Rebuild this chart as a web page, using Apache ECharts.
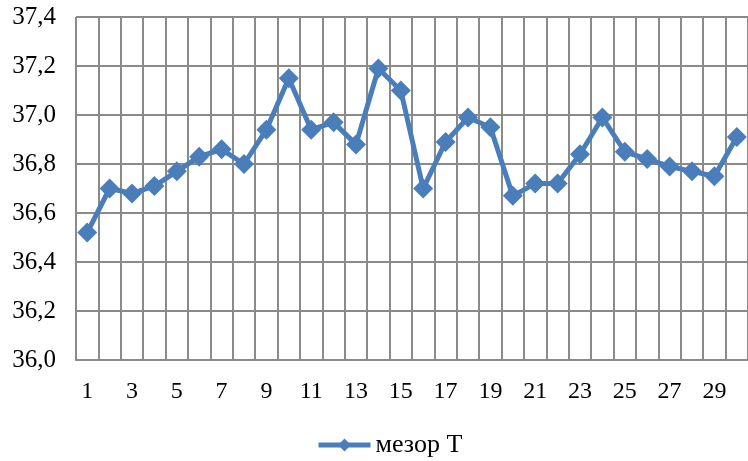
<!DOCTYPE html>
<html>
<head>
<meta charset="utf-8">
<script src="https://cdn.jsdelivr.net/npm/echarts@6/dist/echarts.min.js"></script>
<style>
  html, body { margin: 0; padding: 0; background: #fff; }
  #chart { width: 748px; height: 461px; }
</style>
</head>
<body>
<div id="chart"></div>
<script>
// Days of the observation period
const days = Array.from({ length: 30 }, (_, i) => String(i + 1));

// Daily mesor of body temperature, °C
const mesorT = [
  36.52, 36.70, 36.68, 36.71, 36.77, 36.83, 36.86, 36.80, 36.94, 37.15,
  36.94, 36.97, 36.88, 37.19, 37.10, 36.70, 36.89, 36.99, 36.95, 36.67,
  36.72, 36.72, 36.84, 36.99, 36.85, 36.82, 36.79, 36.77, 36.75, 36.91
];

const seriesName = 'мезор Т';
const yMin = 36.0, yMax = 37.4, yStep = 0.2;

const font = '"Liberation Serif", "Times New Roman", serif';
const gridColor = '#8a8a8a';
const lineColor = '#4a7ebb';

const chart = echarts.init(document.getElementById('chart'), null, { renderer: 'canvas' });
chart.setOption({
  animation: false,
  textStyle: { fontFamily: font },
  grid: { left: 76, top: 17, width: 678, height: 343, containLabel: false },
  legend: {
    top: 432,
    left: 316,
    padding: 0,
    itemWidth: 52,
    itemHeight: 16,
    itemGap: 4,
    lineStyle: { width: 5, color: lineColor },
    itemStyle: { color: lineColor },
    textStyle: { fontFamily: font, fontSize: 26, color: '#000' },
    data: [seriesName]
  },
  xAxis: {
    type: 'category',
    data: days,
    boundaryGap: true,
    axisLine: { show: true, lineStyle: { color: gridColor, width: 2 } },
    axisTick: { show: false },
    axisLabel: { interval: 1, margin: 20, fontSize: 24, color: '#000', fontFamily: font },
    splitLine: { show: true, interval: 0, lineStyle: { color: gridColor, width: 2 } }
  },
  yAxis: {
    type: 'value',
    min: yMin,
    max: yMax,
    interval: yStep,
    axisLine: { show: false },
    axisTick: { show: false },
    axisLabel: {
      margin: 20,
      fontSize: 25,
      color: '#000',
      fontFamily: font,
      formatter: v => v.toFixed(1).replace('.', ',')
    },
    splitLine: { show: true, lineStyle: { color: gridColor, width: 2 } }
  },
  series: [{
    name: seriesName,
    type: 'line',
    data: mesorT,
    symbol: 'diamond',
    symbolSize: 20,
    showAllSymbol: true,
    lineStyle: { color: lineColor, width: 5 },
    itemStyle: { color: lineColor },
    clip: false
  }]
});
</script>
</body>
</html>
